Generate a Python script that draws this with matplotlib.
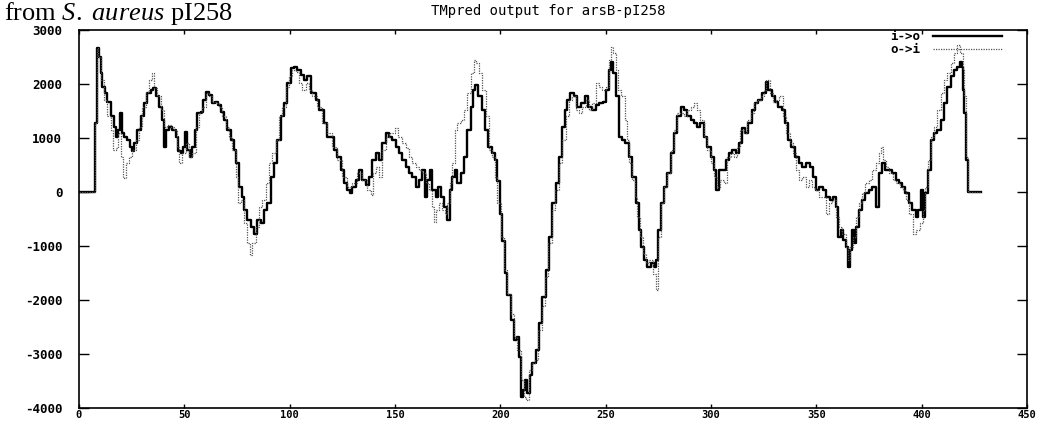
import matplotlib.pyplot as plt

# Profils TMpred (position du residu, score)
io_x = [0, 7, 7.6, 8.4, 8.7, 9.5, 10.3, 11, 12.3, 13.4, 15, 16.6, 17.7, 18.7, 19.5, 20.3, 21.4, 23, 24, 25, 26,
        27.7, 29.3, 30.9, 32.4, 34, 35, 36.4, 38, 39.6, 40.3, 41.5, 42.7, 44.3, 45.9, 47.2, 48.3, 49.4, 50.3,
        51.4, 52.5, 53.8, 55, 56.2, 57.8, 58.9, 60.1, 61.7, 63.3, 64.6, 66.1, 67.2, 68.8, 70.4, 72, 73.6, 74.7,
        76, 77.2, 78.3, 79.9, 81.5, 83, 84.7, 86.2, 87.8, 89.4, 91, 92.6, 94.1, 95.7, 97.3, 98.9, 100.5, 102,
        103.6, 105.2, 106.8, 108.4, 110, 112.3, 113.9,
        116.3, 117.9, 119.4, 121, 122.6, 124.2, 125.8, 127.4, 128.5, 129.7, 131.3, 132.9, 134.5, 136, 137.6,
        139.2, 140.8, 142.4, 144, 145.5, 147.1, 148.7, 150.3, 151.9, 153.5, 155, 156.6, 158.2, 159.8, 161.4,
        163, 164.2, 165.3, 166.4, 167.7, 169.3, 170.5, 171.7, 173.2, 174.8, 175.9, 177.2, 178.5, 179.6, 181.2,
        182.7, 184.3, 185.9, 187, 188, 189.5, 191.1, 192.7, 194.3, 195.9, 197.4, 198.6, 199.7, 201, 202.2,
        203.3, 204.9, 206.5, 208.1, 208.8, 209.6, 210.7, 211.7, 212.8, 213.9, 215.2, 216.7, 218.3, 219.9,
        221.5, 223.1, 224.7, 226.2, 227.8,
        229.4, 230.6, 231.8, 233.3, 235, 236.5, 238.1, 240.1, 241.7, 243.3, 245.2, 246.8, 248.7, 250.3, 251.5,
        252.3, 253.4, 254.7, 256.3, 257.9, 259.4, 261, 262.6, 264.2, 265.8, 267, 268.3, 269.7, 271.3, 272.9,
        274, 275, 276.1, 277.6, 279.2, 280.8, 282.4, 284, 285.6, 287.1, 288.7, 290.3, 291.9, 293.5, 295,
        296.6, 298.2, 299.8, 301.4, 302.5, 303.8, 305.3, 306.9, 308.5, 310.1, 311.7, 313.2, 314.5, 316.1,
        317.7, 319.3, 320.8, 322.4, 324.3, 325.9, 327.2, 328.8, 330.3, 331.9, 333.5, 335.1, 336.7, 338.2,
        339.8, 341.7,
        343.3, 345.2, 346.8, 348.3, 349.9, 351.5, 353.1, 354.7, 356.3, 357.8, 359.1, 360.4, 361.5, 362.6,
        363.9, 364.8, 365.8, 366.7, 367.8, 368.9, 370.2, 371.8, 373.3, 374.9, 376.5, 378.1, 379.7, 381.3,
        382.8, 384.4, 386, 387.6, 389.2, 390.8, 392.3, 393.9, 395.5, 397.1, 398.3, 399.5, 400.6, 401.8,
        403.1, 404.2, 405.8, 407.4, 409, 410.5, 412.1, 413.7, 415.3, 416.9, 418, 419, 419.5, 420.3, 421.1,
        422.1, 428]
io_y = [0, 0, 1270, 2630, 2660, 2500, 2200, 1950, 1830, 1670, 1400, 1210, 1020, 1150, 1460, 1090, 1020, 960, 840,
        750, 900, 1150, 1400, 1640, 1830, 1890, 1920, 1770, 1580, 1330, 840, 1150, 1210, 1150, 1020, 750, 720,
        840, 1120, 780, 650, 840, 1150, 1460, 1490, 1700, 1860, 1800, 1640, 1670, 1610, 1490, 1330, 1150, 960,
        780, 530, 100, -90, -330, -520, -640, -770, -520, -580, -330, -210, 280, 530, 960, 1400, 1640, 2010,
        2290, 2320, 2260, 2170, 2070, 2140, 1830, 1700, 1520,
        1270, 1020, 1020, 780, 650, 410, 160, 40, -25, 100, 220, 410, 220, 130, 280, 590, 720, 590, 900, 1090,
        1020, 960, 840, 720, 590, 470, 350, 280, 100, 220, 410, -90, 220, 410, 40, -90, 100, -90, -270, -520,
        40, 280, 410, 160, 350, 650, 1150, 1580, 1890, 1980, 1770, 1520, 1150, 840, 720, 590, 200, -400, -900,
        -1500, -1900, -2370, -2740, -2680, -3050, -3790, -3670, -3480, -3730, -3380, -3170, -2930, -2430,
        -1940, -1440, -830, -210, 160, 650,
        1210, 1520, 1700, 1830, 1770, 1580, 1640, 1770, 1580, 1520, 1610, 1640, 1670, 1890, 2260, 2410, 2200,
        1770, 1020, 960, 900, 650, 280, -210, -700, -1010, -1260, -1380, -1320, -1380, -1260, -700, -210, 100,
        350, 720, 1090, 1400, 1580, 1520, 1400, 1330, 1270, 1210, 1270, 1020, 840, 650, 410, 40, 410, 410,
        590, 720, 780, 720, 900, 1180, 1090, 1270, 1520, 1640, 1700, 1830, 2040, 1890, 1770, 1670, 1580, 1520,
        1270, 960, 840, 650, 530,
        470, 530, 470, 280, 40, 100, 40, -90, -150, -90, -270, -830, -700, -890, -1010, -1380, -1070, -700,
        -950, -640, -330, -150, -25, 40, 100, -270, 350, 530, 410, 410, 350, 220, 160, 100, -25, -210, -330,
        -460, -330, 40, -460, -25, 410, 960, 1090, 1150, 1330, 1640, 1950, 2140, 2260, 2320, 2410, 2320,
        1890, 1460, 590, 0, 0]

oi_x = [0, 7, 7.6, 8.4, 9.2, 10.3, 11.9, 13.4, 15, 16.1, 17.4, 18.7, 19.8, 20.9, 22.2, 23.7, 25.3, 26.9, 28.5,
        30, 31.6, 33.2, 34.5, 35.6, 37.2, 38.8, 40.3, 41.9, 43.5, 45.1, 46.7, 47.5, 49, 50.6, 52.2, 53.8, 55.4,
        57, 58.5, 60.1, 61.7, 63.3, 64.9, 66.5, 68, 69.6, 71.2, 72.8, 74.4, 75.6, 76.7, 78.3, 79.9, 81.2, 82.3,
        83.9, 85.4, 87, 88.6, 90.2, 91.8, 93.4, 94.9, 96.5, 98.1, 99.7, 101.3, 102.8, 104.4, 106, 107.6,
        109.2, 110.8, 113.1,
        115.5, 117.9, 120.2, 122.6, 125, 127.4, 129.7, 132.1, 134.5, 136.8, 138.4, 139.5, 140.8, 142.4, 144,
        145.5, 147.1, 148.7, 150, 151.6, 153.5, 155, 156.6, 158.2, 159.8, 161.4, 163, 164.5, 166.1, 167.4,
        168.5, 169.6, 170.9, 172.4, 173.7, 174.8, 175.9, 177.2, 178.5, 179.6, 181.2, 182.7, 184.3, 185.9,
        187.5, 188.6, 189.8, 191.4, 193, 194.6, 196.2, 197.4, 198.6, 200.1, 201.7, 203.3, 204.9, 206.5,
        208.1, 209.6, 211.2, 212.3, 213.6, 214.9, 216.4, 218, 219.6, 221.2, 222.8, 224.3, 225.9, 227.8,
        229.4, 231, 232.5, 234.1, 235.7, 237.3, 238.9, 240.5, 242, 243.6, 245.2, 246.8, 248.4, 250, 251.5,
        252.3, 253.4, 254.7, 256, 257.5, 259.1, 260.2, 261.3, 262.6, 263.9, 265.1, 266.4, 267.7, 269.3,
        270.8, 272.4, 273.7, 275, 276.1, 277.6, 279.2, 280.8, 282.4, 284, 285.6, 287.1, 288.7, 290.3, 291.9,
        293.5, 295, 296.6, 298.2, 299.8, 301.4, 303, 304.5, 306.1, 307.7, 309.3, 310.9, 312.5, 314, 315.6,
        317.2, 318.8, 320.4, 322, 323.5, 325.1, 326.2, 327.8, 329.4, 331, 332.5, 334.1, 335.7, 337.3, 338.9,
        340.5, 341.7,
        343.3, 344.9, 346.4, 348, 349.6, 351.2, 352.8, 354.4, 356, 357.5, 359.1, 360.7, 362.3, 363.9, 365,
        366.2, 367.3, 368.6, 370.2, 371.8, 373.3, 374.9, 376.5, 378.1, 379.7, 380.5, 381.6, 383.2, 384.7,
        386.3, 387.9, 389.5, 391.1, 392.6, 394.2, 395.8, 397.4, 399, 400.6, 401.8, 403.1, 404.2, 405.8,
        407.4, 409, 410.5, 412.1, 413.7, 415.3, 416.9, 418.4, 419.5, 420.3, 421.1, 422.1, 428]
oi_y = [0, 0, 1270, 2660, 2500, 2070, 1700, 1400, 1150, 780, 810, 1090, 650, 250, 530, 650, 780, 960, 1210, 1580,
        1860, 2070, 2200, 1920, 1770, 1520, 1210, 1240, 1210, 1150, 840, 530, 720, 900, 650, 720, 1210, 1460,
        1580, 1830, 1770, 1670, 1640, 1580, 1400, 1210, 1020, 780, 280, -210, -150, -580, -950, -1170, -950,
        -640, -270, -150, 160, 530, 720, 960, 1400, 1580, 1950, 2140, 2260, 2230, 2010, 1890, 2010, 1890, 1770,
        1580,
        1270, 1090, 840, 590, 280, 100, 160, 350, 220, 40, -55, 350, 470, 280, 780, 1020, 1090, 1090, 1180,
        1020, 900, 810, 650, 530, 470, 410, 350, 160, 40, -270, -550, -330, -210, -330, -400, -210, 160, 530,
        1150, 1270, 1330, 1520, 1830, 2200, 2440, 2380, 2200, 1890, 1400, 780, 650, 280, -210, -830, -1440,
        -1880, -2250, -2680, -2930, -3480, -3790, -3850, -3300, -3170, -3110, -2560, -2120, -1570, -950, -330,
        40, 530,
        960, 1400, 1700, 1770, 1520, 1460, 1580, 1700, 1520, 1640, 2010, 1950, 1890, 1950, 2440, 2690, 2570,
        2260, 1890, 1770, 1330, 960, 530, 220, -90, -460, -830, -1140, -1320, -1260, -1510, -1810, -830, -210,
        100, 350, 780, 1150, 1460, 1460, 1400, 1520, 1580, 1640, 1520, 1330, 1020, 780, 530, 280, 100, 220,
        160, 650, 720, 650, 840, 1150, 1090, 1330, 1460, 1640, 1700, 1770, 1890, 2070, 1830, 1670, 1700, 1770,
        1400, 1090, 900, 720, 410, 220,
        280, 100, 220, 100, 40, -90, -90, -400, -210, -150, -460, -640, -770, -1010, -1260, -1010, -830, -460,
        -210, -25, 160, 220, 410, 530, 720, 840, 590, 470, 350, 220, 160, 100, 40, -150, -400, -770, -700,
        -580, -330, 100, 590, 1020, 1210, 1520, 1830, 2070, 2200, 2380, 2570, 2720, 2570, 2260, 1770, 650, 0, 0]

xticks = [0, 50, 100, 150, 200, 250, 300, 350, 400, 450]
yticks = [-4000, -3000, -2000, -1000, 0, 1000, 2000, 3000]

plt.rcParams['mathtext.fontset'] = 'custom'
plt.rcParams['mathtext.rm'] = 'Liberation Serif'
plt.rcParams['mathtext.it'] = 'Liberation Serif:italic'

fig = plt.figure(figsize=(10.6, 4.21), dpi=100)
ax = fig.add_axes([79/1060, 1-408/421, (1027-79)/1060, (408-30)/421])

ax.plot(io_x, io_y, drawstyle='steps-post', color='black', lw=1.7, label='i->o')
ax.plot(oi_x, oi_y, drawstyle='steps-post', color='#555555', lw=0.9, linestyle=(0, (1, 1)), label='o->i')

ax.set_xlim(0, 450)
ax.set_ylim(-4000, 3000)
ax.set_xticks(xticks)
ax.set_yticks(yticks)

mono = {'family': 'DejaVu Sans Mono', 'size': 9, 'weight': 'bold'}
ax.set_xticklabels([str(t) for t in xticks], fontdict={'family': 'DejaVu Sans Mono', 'size': 7.5, 'weight': 'bold'})
ax.set_yticklabels([str(t) for t in yticks], fontdict=mono)
ax.tick_params(axis='y', direction='in', length=7, width=1, left=True, right=True, pad=12)
ax.tick_params(axis='x', direction='in', length=3, width=1, top=True, bottom=True, pad=1.5)
for s in ax.spines.values():
    s.set_linewidth(1.2)

ax.set_title("TMpred output for arsB-pI258", fontdict={'family': 'DejaVu Sans Mono', 'size': 10},
             x=(548-79)/948, y=1.018)

ax.legend(loc='upper right', bbox_to_anchor=(0.985, 1.03), frameon=False, markerfirst=False,
          prop={'family': 'DejaVu Sans Mono', 'size': 9, 'weight': 'bold'},
          handlelength=5.5, labelspacing=0.0, handletextpad=1.0)

fig.text(0.004, 1-20/421, r"from $\mathit{S.\ aureus}$ pI258", fontfamily='Liberation Serif',
         fontsize=19, va='baseline', ha='left')

plt.savefig("out.png", dpi=100)
